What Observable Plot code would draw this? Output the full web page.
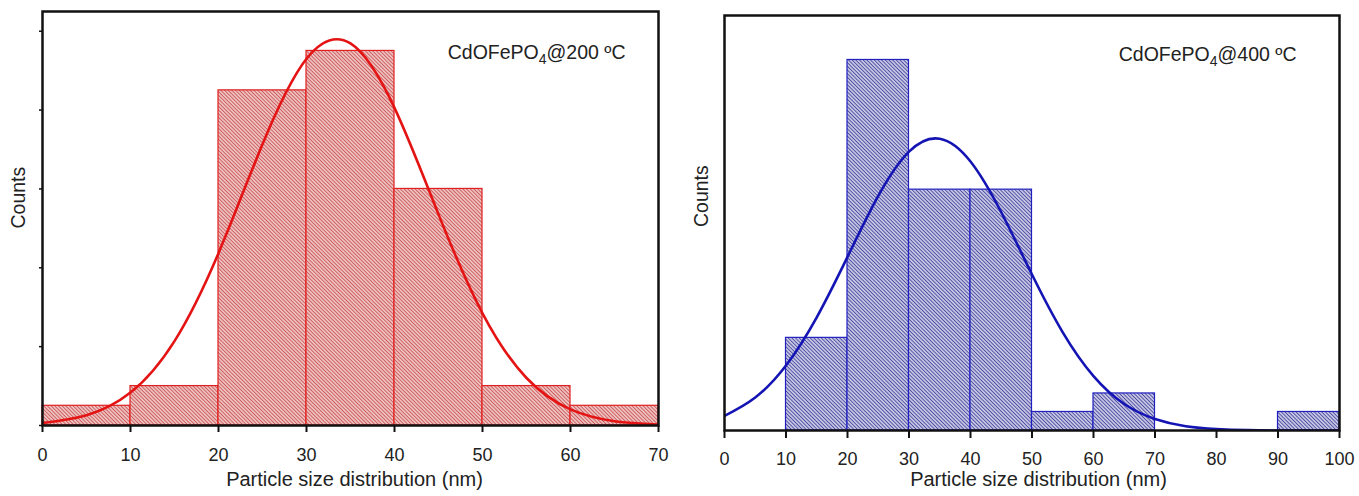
<!DOCTYPE html>
<html><head><meta charset="utf-8">
<script src="https://cdn.jsdelivr.net/npm/d3@7"></script>
<script src="https://cdn.jsdelivr.net/npm/@observablehq/plot@0.6"></script>
<style>
body{margin:0;background:#fff;font-family:"Liberation Sans",Arial,sans-serif;}
#wrap{display:flex;width:1359px;height:496px;}
svg{display:block;}
</style></head><body><div id="wrap"></div>
<script>
// ---- data: CdOFePO4 @ 200 ºC ----
const binStart200 = [0, 10, 20, 30, 40, 50, 60];
const counts200   = [1, 2, 17, 19, 12, 2, 1];
const fitX200 = [0, 5, 10, 15, 20, 25, 30, 35, 40, 45, 50, 55, 60, 65, 70];
const fitY200 = [0.13, 0.52, 1.67, 4.28, 8.74, 14.27, 18.6, 19.38, 16.11, 10.71, 5.69, 2.41, 0.82, 0.22, 0.05];
const xTicks200 = [0, 10, 20, 30, 40, 50, 60, 70];
const yTicks200 = [0, 4, 8, 12, 16, 20];

// ---- data: CdOFePO4 @ 400 ºC ----
const binStart400 = [10, 20, 30, 40, 50, 60, 90];
const counts400   = [5, 20, 13, 13, 1, 2, 1];
const fitX400 = [0, 5, 10, 15, 20, 25, 30, 35, 40, 45, 50, 55, 60, 65, 70, 75, 80, 85, 90, 95, 100];
const fitY400 = [0.79, 1.78, 3.51, 6.11, 9.37, 12.66, 15.05, 15.75, 14.52, 11.78, 8.42, 5.30, 2.94, 1.43, 0.62, 0.23, 0.08, 0.02, 0, 0, 0];
const xTicks400 = [0, 10, 20, 30, 40, 50, 60, 70, 80, 90, 100];

const titles = ["CdOFePO4@200 ºC", "CdOFePO4@400 ºC"];
const yLabel = "Counts";
const xLabel = "Particle size distribution (nm)";

const FONT = '"Liberation Sans", Arial, Helvetica, sans-serif';

function addHatch(svg, id, bg, lineColor) {
  const ns = "http://www.w3.org/2000/svg";
  const defs = document.createElementNS(ns, "defs");
  const pat = document.createElementNS(ns, "pattern");
  pat.setAttribute("id", id);
  pat.setAttribute("patternUnits", "userSpaceOnUse");
  pat.setAttribute("width", "6");
  pat.setAttribute("height", "2.6");
  pat.setAttribute("patternTransform", "rotate(45)");
  const r = document.createElementNS(ns, "rect");
  r.setAttribute("width", "6"); r.setAttribute("height", "2.6"); r.setAttribute("fill", bg);
  const l = document.createElementNS(ns, "line");
  l.setAttribute("x1", "0"); l.setAttribute("x2", "6");
  l.setAttribute("y1", "1.3"); l.setAttribute("y2", "1.3");
  l.setAttribute("stroke", lineColor); l.setAttribute("stroke-width", "1.25");
  pat.appendChild(r); pat.appendChild(l); defs.appendChild(pat);
  svg.insertBefore(defs, svg.firstChild);
}

function subscript4(svg) {
  svg.querySelectorAll("text, tspan").forEach(t => {
    if (t.childNodes.length !== 1 || t.firstChild.nodeType !== 3) return;
    const s = t.textContent;
    const i = s.indexOf("PO4@");
    if (i < 0) return;
    const ns = "http://www.w3.org/2000/svg";
    t.textContent = "";
    const a = document.createElementNS(ns, "tspan"); a.textContent = s.slice(0, i + 2);
    const b = document.createElementNS(ns, "tspan"); b.textContent = "4";
    b.setAttribute("font-size", "14"); b.setAttribute("dy", "5");
    const c = document.createElementNS(ns, "tspan"); c.textContent = s.slice(i + 3);
    c.setAttribute("dy", "-5");
    t.appendChild(a); t.appendChild(b); t.appendChild(c);
  });
}

function panel(o) {
  const bins = o.starts.map((s, i) => ({x1: s, x2: s + 10, y: o.counts[i]}));
  const fit = o.fitX.map((x, i) => ({x, y: o.fitY[i]}));
  const marks = [
    Plot.rectY(bins, {x1: "x1", x2: "x2", y: "y", fill: `url(#${o.hatchId})`, stroke: o.barStroke, strokeWidth: 1.2}),
    Plot.line(fit, {x: "x", y: "y", stroke: o.lineColor, strokeWidth: 2.6, curve: "natural", clip: true}),
    Plot.axisX({ticks: o.xTicks, tickSize: o.tickSize, tickPadding: o.tickPadding, strokeWidth: 2, stroke: "#111", label: null, fontSize: 18, fill: "#222"}),
  ];
  if (o.yTicks) marks.push(Plot.axisY({ticks: o.yTicks, tickSize: 3, strokeWidth: 1.5, stroke: "#111", tickFormat: () => "", label: null}));
  marks.push(
    Plot.frame({stroke: "#111", strokeWidth: 2.5}),
    Plot.text([o.title], {text: d => d, frameAnchor: "top-right", textAnchor: "end", lineAnchor: "top", dx: o.titleDx, dy: o.titleDy, fontSize: 19.5, fill: "#222"}),
    Plot.text([yLabel], {text: d => d, frameAnchor: "left", rotate: -90, dx: o.yLabelDx, dy: o.yLabelDy, fontSize: 19.5, fill: "#222"}),
    Plot.text([xLabel], {text: d => d, frameAnchor: "bottom", dx: o.xLabelDx, dy: o.xLabelDy, fontSize: 20, fill: "#222"})
  );
  const svg = Plot.plot({
    width: o.width, height: 496,
    marginLeft: o.marginLeft, marginRight: o.marginRight, marginTop: o.marginTop, marginBottom: o.marginBottom,
    x: {domain: o.xDomain, axis: null},
    y: {domain: o.yDomain, axis: null},
    style: {fontFamily: FONT, background: "transparent", overflow: "visible"},
    marks
  });
  addHatch(svg, o.hatchId, o.hatchBg, o.hatchLine);
  subscript4(svg);
  return svg;
}

const wrap = document.getElementById("wrap");
wrap.appendChild(panel({
  width: 680, marginLeft: 42, marginRight: 22, marginTop: 11, marginBottom: 71,
  xDomain: [0, 70], yDomain: [0, 21], xTicks: xTicks200, yTicks: yTicks200,
  starts: binStart200, counts: counts200, fitX: fitX200, fitY: fitY200,
  hatchId: "hatchRed", hatchBg: "#f7dcdc", hatchLine: "#cc5a5a", barStroke: "#e02020", lineColor: "#e41414",
  tickSize: 7, tickPadding: 16, title: titles[0], titleDx: -33, titleDy: 34,
  yLabelDx: -24, yLabelDy: 10, xLabelDx: 4, xLabelDy: 60
}));
wrap.appendChild(panel({
  width: 679, marginLeft: 44, marginRight: 20, marginTop: 15, marginBottom: 66,
  xDomain: [0, 100], yDomain: [0, 22.4], xTicks: xTicks400, yTicks: null,
  starts: binStart400, counts: counts400, fitX: fitX400, fitY: fitY400,
  hatchId: "hatchBlue", hatchBg: "#e6e6f5", hatchLine: "#4c4ca2", barStroke: "#2020c0", lineColor: "#1414b4",
  tickSize: 8, tickPadding: 14, title: titles[1], titleDx: -43, titleDy: 32,
  yLabelDx: -22.5, yLabelDy: 4, xLabelDx: 6.5, xLabelDy: 55
}));
</script>
</body></html>
